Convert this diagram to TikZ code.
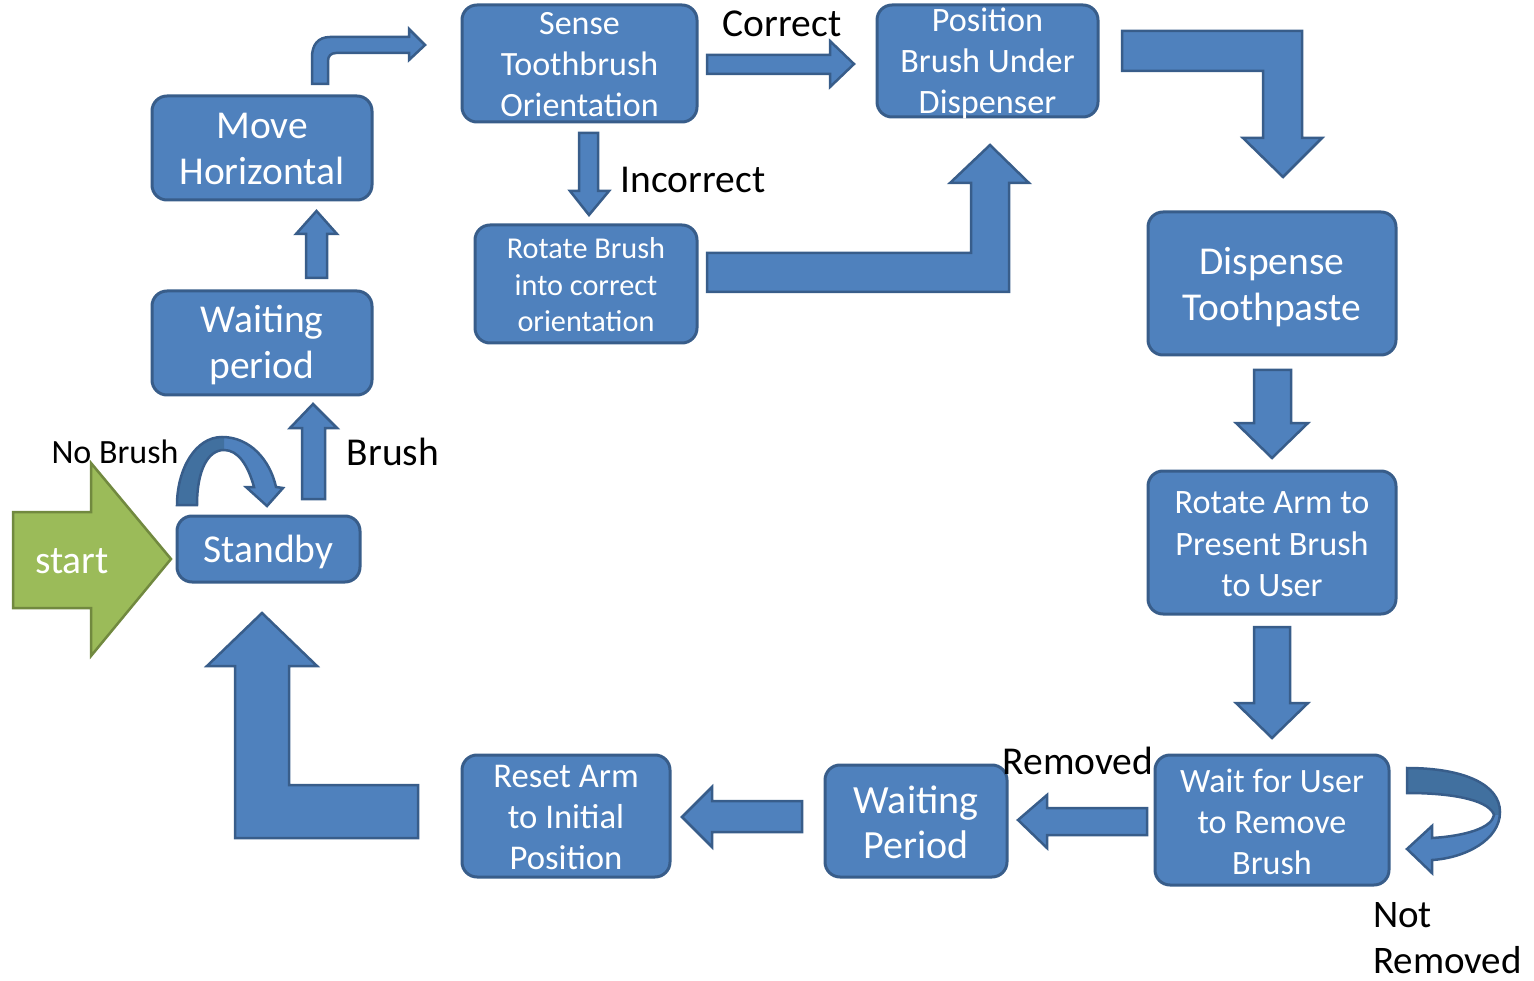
\documentclass[tikz,border=0pt]{standalone}
\usepackage{fontspec}
\setmainfont{Carlito}
\definecolor{boxblue}{HTML}{4F81BD}
\definecolor{boxedge}{HTML}{385D8A}
\definecolor{shadeblue}{HTML}{41709F}
\definecolor{startgreen}{HTML}{9BBB59}
\definecolor{startedge}{HTML}{71893F}
\newcommand\setsz[2]{\fontsize{#1}{#2}\selectfont}
% outlines of the two curved self-loop arrows
\newcommand\nobrushloop{(177,505) .. controls (177,470) and (195,437) .. (222,437) .. controls (250,437) and (270,460) .. (276,487) -- (283,488) -- (267,506) -- (246,487) -- (254,487) .. controls (248,465) and (238,450) .. (224,450) .. controls (208,450) and (197,470) .. (197,505) -- cycle}
\newcommand\notremovedloop{(1407,768) .. controls (1465,768) and (1500,785) .. (1500,812) .. controls (1500,840) and (1465,858) .. (1432,860) -- (1432,873) -- (1407,849) -- (1432,826) -- (1432,838) .. controls (1465,836) and (1492,828) .. (1494,815) .. controls (1490,802) and (1460,793) .. (1407,793) -- cycle}
\tikzset{
  statebox/.style={draw=boxedge, fill=boxblue, line width=3pt, rounded corners=15pt, inner sep=0pt},
  statetext/.style={text=white, align=center, inner sep=0pt},
  blockarrow/.style={draw=boxedge, fill=boxblue, line width=2.5pt, line join=miter},
  lbl/.style={text=black, inner sep=0pt, font=\setsz{39.5}{47}},
}
\begin{document}
\begin{tikzpicture}[x=1pt, y=-1pt]
\useasboundingbox (0,0) rectangle (1534,981);

% ---------- states ----------
\node[statebox, minimum width=183, minimum height=66,
  label={[statetext, font=\setsz{39.5}{46}, yshift=-3pt]center:Standby}] (standby) at (268.5,549) {};
\node[statebox, minimum width=220, minimum height=104,
  label={[statetext, font=\setsz{39.5}{46}, yshift=-2pt]center:Waiting\\period}] (waitA) at (262,343) {};
\node[statebox, minimum width=220, minimum height=104,
  label={[statetext, font=\setsz{39.5}{46}, yshift=-0.5pt]center:Move\\Horizontal}] (move) at (262,148) {};
\node[statebox, minimum width=235, minimum height=117,
  label={[statetext, font=\setsz{34}{41}, yshift=-1pt]center:Sense\\Toothbrush\\Orientation}] (sense) at (579.5,63.5) {};
\node[statebox, minimum width=221, minimum height=112,
  label={[statetext, font=\setsz{34.2}{41}, yshift=-2.5pt]center:Position\\Brush Under\\Dispenser}] (position) at (987.5,61) {};
\node[statebox, minimum width=222, minimum height=118,
  label={[statetext, font=\setsz{30.3}{36.5}, yshift=-1pt]center:Rotate Brush\\into correct\\orientation}] (rotbrush) at (586,284) {};
\node[statebox, minimum width=248, minimum height=143,
  label={[statetext, font=\setsz{39.5}{46}, yshift=-4pt]center:Dispense\\Toothpaste}] (dispense) at (1272,283.5) {};
\node[statebox, minimum width=248, minimum height=143,
  label={[statetext, font=\setsz{34.2}{41.5}, yshift=-2pt]center:Rotate Arm to\\Present Brush\\to User}] (rotarm) at (1272,542.5) {};
\node[statebox, minimum width=234, minimum height=130,
  label={[statetext, font=\setsz{34.1}{41}, yshift=-1.5pt]center:Wait for User\\to Remove\\Brush}] (waituser) at (1272,820) {};
\node[statebox, minimum width=182, minimum height=112,
  label={[statetext, font=\setsz{40}{45}, yshift=-1pt]center:Waiting\\Period}] (waitB) at (916,821) {};
\node[statebox, minimum width=208, minimum height=122,
  label={[statetext, font=\setsz{34.7}{41}, yshift=-1.5pt]center:Reset Arm\\to Initial\\Position}] (reset) at (566,816) {};

% ---------- start arrow ----------
\draw[draw=startedge, fill=startgreen, line width=2.5pt, line join=miter]
  (13,512) -- (91,512) -- (91,463) -- (171,559) -- (91,656) -- (91,608) -- (13,608) -- cycle;
\node[text=white, inner sep=0pt, font=\setsz{39.5}{45}] (startlbl) at (72,561) {start};

% ---------- straight block arrows ----------
% Standby -> Waiting period
\draw[blockarrow] (302,499) -- (302,428) -- (290,428) -- (313,404) -- (337,428) -- (325,428) -- (325,499) -- cycle;
% Waiting period -> Move Horizontal
\draw[blockarrow] (306,278) -- (306,234) -- (296,234) -- (316.5,211) -- (337,234) -- (327,234) -- (327,278) -- cycle;
% Move Horizontal -> Sense (bent)
\draw[blockarrow] (312,84) -- (312,57) .. controls (312,45) and (318,37) .. (330,37) -- (409,37) -- (409,29) -- (425,45) -- (409,60) -- (409,53) -- (336,53) .. controls (331,53) and (328,56) .. (328,61) -- (328,84) -- cycle;
% Sense -> Position (correct)
\draw[blockarrow] (707,55) -- (830,55) -- (830,41) -- (854,64) -- (830,87) -- (830,74) -- (707,74) -- cycle;
% Sense -> Rotate Brush (incorrect)
\draw[blockarrow] (579,133) -- (598,133) -- (598,191) -- (609,191) -- (589,215) -- (570,191) -- (579,191) -- cycle;
% Rotate Brush -> Position (bent up)
\draw[blockarrow] (707,253) -- (971,253) -- (971,183) -- (950,183) -- (990,145) -- (1029,183) -- (1009,183) -- (1009,292) -- (707,292) -- cycle;
% Position -> Dispense (bent down)
\draw[blockarrow] (1122,31) -- (1302,31) -- (1302,138) -- (1322,138) -- (1283,177) -- (1243,138) -- (1263,138) -- (1263,71) -- (1122,71) -- cycle;
% Dispense -> Rotate Arm
\draw[blockarrow] (1254,370) -- (1291,370) -- (1291,423) -- (1308,423) -- (1272,458) -- (1236,423) -- (1254,423) -- cycle;
% Rotate Arm -> Wait for User
\draw[blockarrow] (1254,627) -- (1290,627) -- (1290,703) -- (1308,703) -- (1272,738) -- (1236,703) -- (1254,703) -- cycle;
% Wait for User -> Waiting Period (removed)
\draw[blockarrow] (1147,808) -- (1047,808) -- (1047,795) -- (1018,820) -- (1047,848) -- (1047,835) -- (1147,835) -- cycle;
% Waiting Period -> Reset Arm
\draw[blockarrow] (802,801) -- (712,801) -- (712,787) -- (682,817) -- (712,847) -- (712,832) -- (802,832) -- cycle;
% Reset Arm -> Standby (bent up)
\draw[blockarrow] (235,838) -- (235,666) -- (207,666) -- (262,613) -- (317,666) -- (289,666) -- (289,785) -- (418,785) -- (418,838) -- cycle;

% ---------- curved self-loops ----------
\fill[boxblue] \nobrushloop;
\begin{scope}
  \clip (150,420) rectangle (224,520);
  \fill[shadeblue] \nobrushloop;
\end{scope}
\draw[blockarrow, fill=none] \nobrushloop;

\fill[boxblue] \notremovedloop;
\begin{scope}
  \clip (1400,750) rectangle (1510,814);
  \fill[shadeblue] \notremovedloop;
\end{scope}
\draw[blockarrow, fill=none] \notremovedloop;

% ---------- transition labels ----------
\node[lbl, font=\setsz{34}{40}] (nobrush) at (115,452) {No Brush};
\node[lbl] (brush) at (393,452) {Brush};
\node[lbl] (correct) at (782,24) {Correct};
\node[lbl] (incorrect) at (693,180) {Incorrect};
\node[lbl] (removed) at (1078,761) {Removed};
\node[lbl, font=\setsz{39}{46}, align=left, anchor=west] (notremoved) at (1373,938) {Not\\Removed};
\end{tikzpicture}
\end{document}
